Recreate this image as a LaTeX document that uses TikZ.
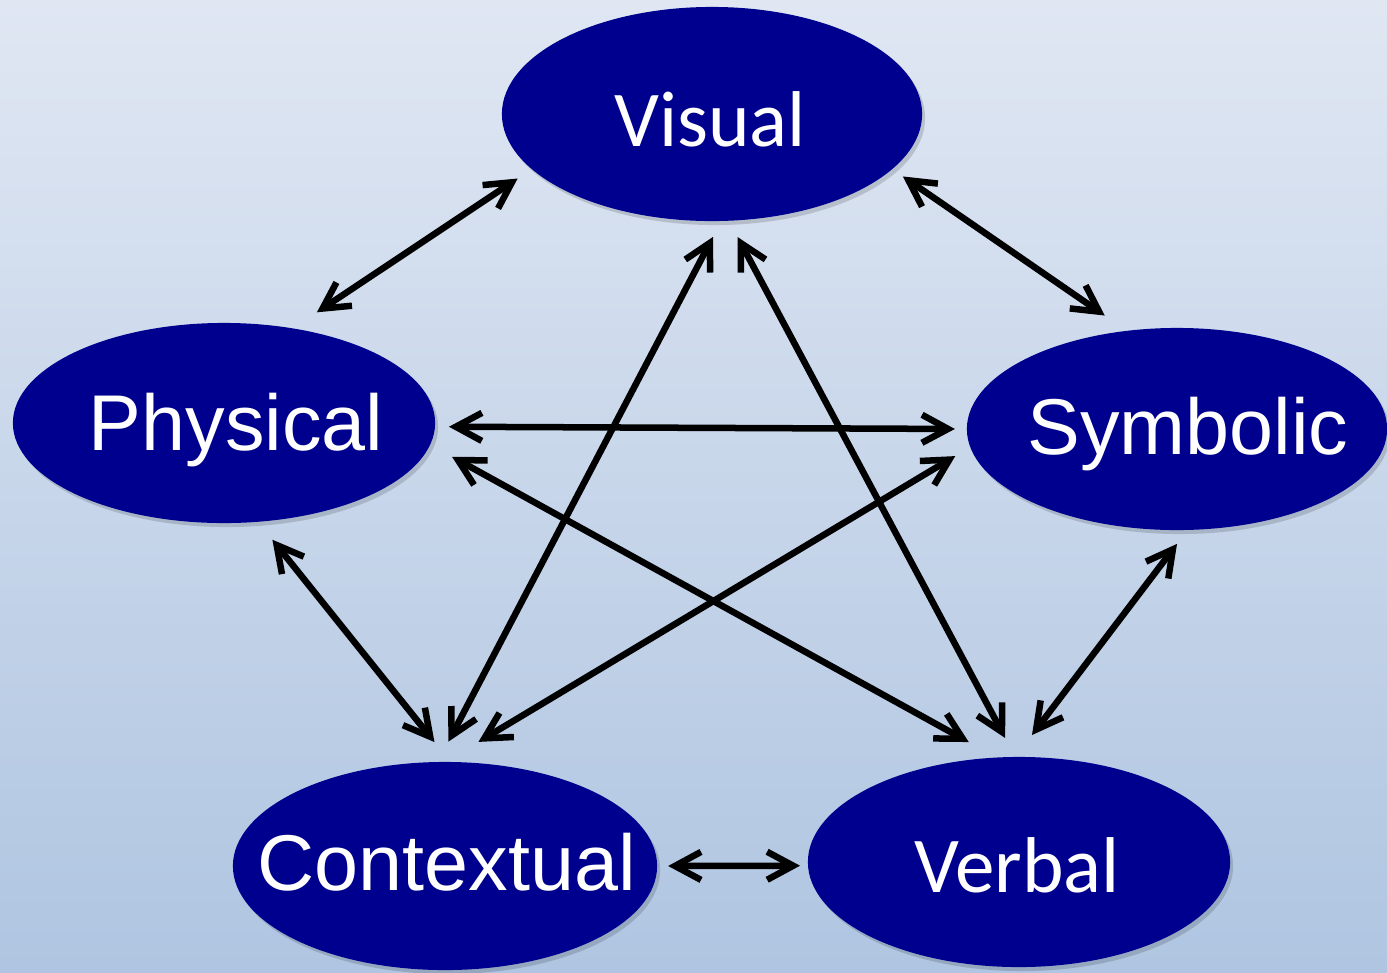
\documentclass[tikz,border=0pt]{standalone}
\usepackage{fontspec}
\newfontfamily\calfont{Carlito}
\newfontfamily\arifont{Liberation Sans}
\usetikzlibrary{shapes,shadows,arrows.meta}
\definecolor{navy}{RGB}{0,0,142}
\definecolor{bgtop}{RGB}{224,231,243}
\definecolor{bgbot}{RGB}{175,197,225}

\begin{document}
\begin{tikzpicture}[x=0.01cm, y=-0.01cm, line join=round, line cap=round,
	>={Straight Barb[length=2.6mm,width=2.8mm]},
	bub/.style={ellipse, fill=navy, inner sep=0pt, outer sep=0pt,
		drop shadow={shadow xshift=0.3mm, shadow yshift=-0.4mm, fill=black, opacity=0.15}},
	calw/.style={text=white, inner sep=0pt, text depth=0pt, text height=14.5pt,
		font=\calfont\fontsize{22.5}{27}\selectfont},
	ariw/.style={text=white, inner sep=0pt, text depth=0pt, text height=16.1pt,
		font=\arifont\fontsize{22.5}{27}\selectfont},
	link/.style={<->, line width=0.65mm, black}]

			\useasboundingbox (0,0) rectangle (1387,972);

			\shade[top color=bgtop, bottom color=bgbot] (0,0) rectangle (1387,972);

			\node[bub, minimum width=42mm, minimum height=21.4mm] (vis) at (712,114) {};

			\node[bub, minimum width=42.2mm, minimum height=20mm] (phy) at (224,423) {};

			\node[bub, minimum width=42mm, minimum height=20.2mm] (sym) at (1177,429) {};

			\node[bub, minimum width=42.4mm, minimum height=20.8mm] (con) at (445,866) {};

			\node[bub, minimum width=42.2mm, minimum height=21mm] (ver) at (1019,862) {};

			\node[calw] (visw) at (710,121) {Visual};

			\node[ariw] (phyw) at (236,422) {Physical};

			\node[ariw] (symw) at (1188,426) {Symbolic};

			\node[ariw] (conw) at (447,862) {Contextual};

			\node[calw] (verw) at (1017,867) {Verbal};

			\draw[link, shorten <=1.7mm, shorten >=2.9mm] (vis.-163.2) -- (phy.54.5);

			\draw[link, shorten <=1.3mm, shorten >=2.7mm] (vis.-17.6) -- (sym.117.5);

			\draw[link, shorten <=1.4mm, shorten >=1.2mm] (phy.-1.6) -- (sym.180);

			\draw[link, shorten <=2.5mm, shorten >=3.2mm] (phy.-6) -- (ver.102.3);

			\draw[link, shorten <=1.75mm, shorten >=3.9mm] (sym.-175.3) -- (con.90.1);

			\draw[link, shorten <=1.8mm, shorten >=2.3mm] (vis.-85.5) -- (con.94.1);

			\draw[link, shorten <=1.85mm, shorten >=2.15mm] (vis.-81.3) -- (ver.92.1);

			\draw[link, shorten <=2.3mm, shorten >=2.55mm] (phy.-71.3) -- (con.87.8);

			\draw[link, shorten <=1.75mm, shorten >=2.75mm] (sym.-84.5) -- (ver.92.6);

			\draw[link, shorten <=1.1mm, shorten >=0.8mm] (con.0) -- (ver.181.4);

	\end{tikzpicture}
\end{document}
